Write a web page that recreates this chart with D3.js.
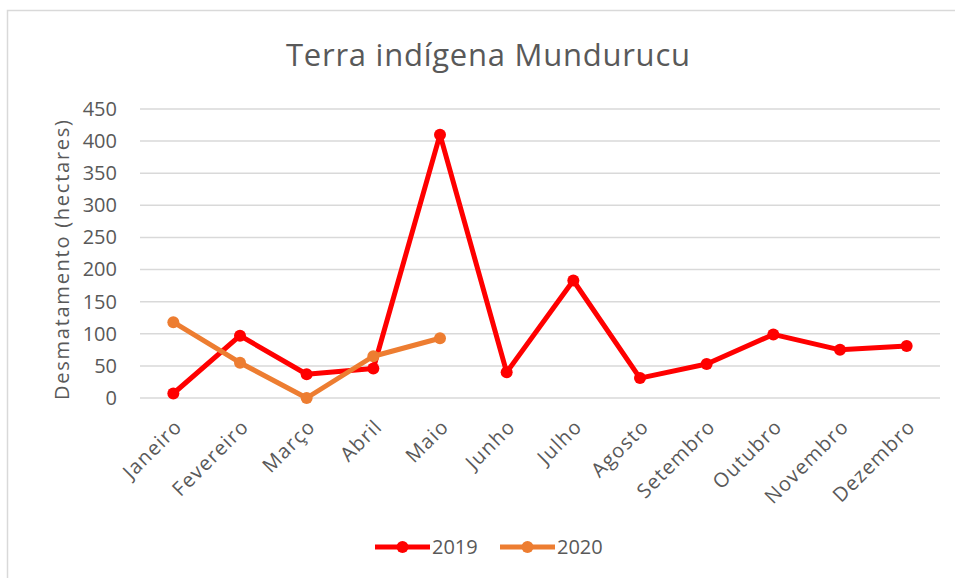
<!DOCTYPE html>
<html lang="pt">
<head>
<meta charset="utf-8">
<title>Terra indígena Mundurucu</title>
<script src="https://d3js.org/d3.v7.min.js"></script>
<style>
  body { margin: 0; background: #fff; }
  svg text { font-family: "Open Sans", sans-serif; fill: #595959; }
</style>
</head>
<body>
<div id="chart"></div>
<script>
// data
var months = ["Janeiro", "Fevereiro", "Março", "Abril", "Maio", "Junho",
              "Julho", "Agosto", "Setembro", "Outubro", "Novembro", "Dezembro"];
var values2019 = [7, 97, 37, 46, 410, 40, 183, 31, 53, 99, 75, 81];
var values2020 = [118, 55, 0, 65, 93];
var yTicks = [0, 50, 100, 150, 200, 250, 300, 350, 400, 450];

var series = [
  {name: "2019", color: "#ff0000", values: values2019},
  {name: "2020", color: "#ed7d31", values: values2020}
];

var W = 955, H = 578;
var margin = {top: 109, right: 15, bottom: 180, left: 140};
var width = 940 - margin.left,
    height = 398 - margin.top;

var svg = d3.select("#chart").append("svg")
    .attr("width", W)
    .attr("height", H);

// chart frame (only left and top edges show in the picture)
svg.append("path")
    .attr("d", "M7.5,578 V10.5 H955")
    .attr("fill", "none")
    .attr("stroke", "#d9d9d9")
    .attr("stroke-width", 1.5);

// title
svg.append("text")
    .attr("x", 488)
    .attr("y", 66)
    .attr("text-anchor", "middle")
    .attr("textLength", 404)
    .style("font-size", "31px")
    .text("Terra indígena Mundurucu");

var g = svg.append("g")
    .attr("transform", "translate(" + margin.left + "," + margin.top + ")");

var x = d3.scaleBand()
    .domain(months)
    .range([0, width]);

var y = d3.scaleLinear()
    .domain([0, 450])
    .range([height, 0]);

// gridlines
g.append("g")
    .selectAll("line")
    .data(yTicks)
    .enter().append("line")
      .attr("x1", 0)
      .attr("x2", width)
      .attr("y1", function(d) { return y(d); })
      .attr("y2", function(d) { return y(d); })
      .attr("stroke", "#d9d9d9")
      .attr("stroke-width", 1.5);

// y axis labels
var yAxis = g.append("g")
    .call(d3.axisLeft(y).tickValues(yTicks).tickSize(0).tickPadding(23));
yAxis.select(".domain").remove();
yAxis.selectAll("text")
    .style("font-size", "20px")
    .attr("fill", "#595959");

// x axis labels, rotated
var xAxis = g.append("g")
    .attr("transform", "translate(0," + height + ")")
    .call(d3.axisBottom(x).tickSize(0));
xAxis.select(".domain").remove();
xAxis.selectAll("text")
    .style("font-size", "20px")
    .style("letter-spacing", "1.2px")
    .attr("fill", "#595959")
    .attr("text-anchor", "end")
    .attr("x", 0)
    .attr("y", 0)
    .attr("dy", 0)
    .attr("transform", "translate(10,30) rotate(-45)");

// y axis title
svg.append("text")
    .attr("transform", "translate(69," + 260 + ") rotate(-90)")
    .attr("text-anchor", "middle")
    .attr("textLength", 280)
    .style("font-size", "20px")
    .text("Desmatamento  (hectares)");

// lines and markers
var line = d3.line()
    .x(function(d, i) { return x(months[i]) + x.bandwidth() / 2; })
    .y(function(d) { return y(d); });

series.forEach(function(s) {
  g.append("path")
      .datum(s.values)
      .attr("fill", "none")
      .attr("stroke", s.color)
      .attr("stroke-width", 5)
      .attr("stroke-linejoin", "round")
      .attr("d", line);

  g.selectAll(".pt" + s.name)
      .data(s.values)
      .enter().append("circle")
        .attr("cx", function(d, i) { return x(months[i]) + x.bandwidth() / 2; })
        .attr("cy", function(d) { return y(d); })
        .attr("r", 6)
        .attr("fill", s.color);
});

// legend
var legend = svg.append("g")
    .attr("transform", "translate(375,547)");
var item = legend.selectAll("g")
    .data(series)
    .enter().append("g")
      .attr("transform", function(d, i) { return "translate(" + (i * 125) + ",0)"; });
item.append("line")
    .attr("x1", 0).attr("x2", 55)
    .attr("stroke", function(d) { return d.color; })
    .attr("stroke-width", 5);
item.append("circle")
    .attr("cx", 27.5)
    .attr("r", 6)
    .attr("fill", function(d) { return d.color; });
item.append("text")
    .attr("x", 57)
    .attr("dy", "0.35em")
    .style("font-size", "20px")
    .text(function(d) { return d.name; });
</script>
</body>
</html>
